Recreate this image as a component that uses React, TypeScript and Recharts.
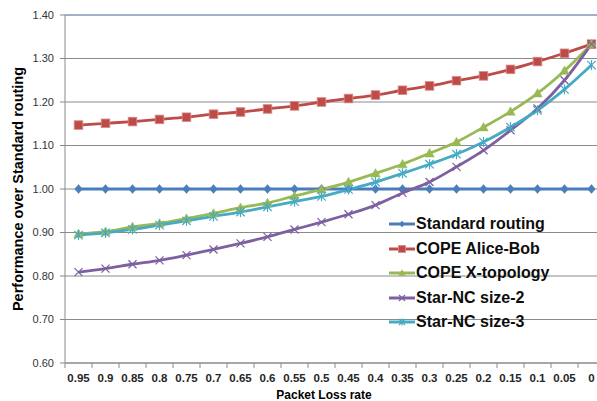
import React from 'react';
import { LineChart, Line, XAxis, YAxis, CartesianGrid, Legend, ReferenceLine } from 'recharts';

const lossRates = ['0.95', '0.9', '0.85', '0.8', '0.75', '0.7', '0.65', '0.6', '0.55', '0.5', '0.45', '0.4', '0.35', '0.3', '0.25', '0.2', '0.15', '0.1', '0.05', '0'];
const standardRouting = [1, 1, 1, 1, 1, 1, 1, 1, 1, 1, 1, 1, 1, 1, 1, 1, 1, 1, 1, 1];
const copeAliceBob = [1.147, 1.151, 1.155, 1.160, 1.165, 1.172, 1.177, 1.184, 1.191, 1.200, 1.208, 1.216, 1.227, 1.237, 1.249, 1.260, 1.275, 1.293, 1.312, 1.333];
const copeXTopology = [0.897, 0.902, 0.913, 0.921, 0.932, 0.944, 0.957, 0.968, 0.984, 0.999, 1.016, 1.036, 1.057, 1.082, 1.108, 1.142, 1.178, 1.220, 1.272, 1.333];
const starNcSize2 = [0.809, 0.817, 0.827, 0.836, 0.848, 0.861, 0.875, 0.890, 0.907, 0.924, 0.942, 0.963, 0.991, 1.016, 1.051, 1.089, 1.135, 1.185, 1.250, 1.333];
const starNcSize3 = [0.894, 0.899, 0.907, 0.917, 0.927, 0.937, 0.947, 0.959, 0.971, 0.983, 0.999, 1.016, 1.036, 1.057, 1.080, 1.108, 1.142, 1.181, 1.229, 1.285];
const yTicks = [0.6, 0.7, 0.8, 0.9, 1.0, 1.1, 1.2, 1.3, 1.4];

const data = lossRates.map((rate, i) => ({
  rate,
  standard: standardRouting[i],
  aliceBob: copeAliceBob[i],
  xTopology: copeXTopology[i],
  star2: starNcSize2[i],
  star3: starNcSize3[i],
}));

type Shape = 'diamond' | 'square' | 'triangle' | 'x' | 'star';

const series: { key: string; name: string; color: string; shape: Shape }[] = [
  { key: 'standard', name: 'Standard routing', color: '#4a7ebb', shape: 'diamond' },
  { key: 'aliceBob', name: 'COPE Alice-Bob', color: '#be4b48', shape: 'square' },
  { key: 'xTopology', name: 'COPE X-topology', color: '#98b954', shape: 'triangle' },
  { key: 'star2', name: 'Star-NC size-2', color: '#7d60a0', shape: 'x' },
  { key: 'star3', name: 'Star-NC size-3', color: '#46aac5', shape: 'star' },
];

const CHART_W = 620;
const CHART_H = 401;
const MARGIN = { top: 15, right: 15, bottom: 0, left: 0 };
const YAXIS_W = 65;
const XAXIS_H = 38;
const PLOT_W = CHART_W - MARGIN.left - MARGIN.right - YAXIS_W;
const HALF_BAND = PLOT_W / lossRates.length / 2;
const FONT = '"Liberation Sans", Arial, sans-serif';
const GRID = '#8a8a8a';

function Marker({ shape, cx, cy, color, s }: { shape: Shape; cx: number; cy: number; color: string; s: number }) {
  switch (shape) {
    case 'diamond':
      return <polygon points={`${cx},${cy - s} ${cx + s * 0.85},${cy} ${cx},${cy + s} ${cx - s * 0.85},${cy}`} fill={color} stroke={color} strokeWidth={0.5} />;
    case 'square':
      return <rect x={cx - s} y={cy - s} width={2 * s} height={2 * s} fill={color} stroke="#d88a88" strokeWidth={0.8} />;
    case 'triangle':
      return <polygon points={`${cx},${cy - s * 1.1} ${cx + s * 1.1},${cy + s * 0.85} ${cx - s * 1.1},${cy + s * 0.85}`} fill={color} stroke={color} strokeWidth={0.5} />;
    case 'x':
      return (
        <g stroke={color} strokeWidth={1.2}>
          <line x1={cx - s} y1={cy - s} x2={cx + s} y2={cy + s} />
          <line x1={cx - s} y1={cy + s} x2={cx + s} y2={cy - s} />
        </g>
      );
    case 'star':
    default:
      return (
        <g stroke={color} strokeWidth={1.2}>
          <line x1={cx - s} y1={cy - s} x2={cx + s} y2={cy + s} />
          <line x1={cx - s} y1={cy + s} x2={cx + s} y2={cy - s} />
          <line x1={cx} y1={cy - s * 1.2} x2={cx} y2={cy + s * 1.2} />
        </g>
      );
  }
}

const dotSize: Record<Shape, number> = { diamond: 4.5, square: 4.3, triangle: 4.3, x: 4, star: 4.2 };

const makeDot = (shape: Shape, color: string) => (props: any) => {
  const { cx, cy, index } = props;
  if (cx == null || cy == null) return <g key={`e${index}`} />;
  return (
    <g key={`d${index}`}>
      <Marker shape={shape} cx={cx} cy={cy} color={color} s={dotSize[shape]} />
    </g>
  );
};

const XTick = (props: any) => {
  const { x, y, payload, index } = props;
  const last = index === lossRates.length - 1;
  return (
    <g>
      <line x1={x - HALF_BAND} y1={y} x2={x - HALF_BAND} y2={y + 5} stroke={GRID} />
      {last && <line x1={x + HALF_BAND} y1={y} x2={x + HALF_BAND} y2={y + 5} stroke={GRID} />}
      <text x={x} y={y + 19} textAnchor="middle" fontFamily={FONT} fontSize={11.5} fontWeight="bold" fill="#262626">
        {payload.value}
      </text>
    </g>
  );
};

const YLabel = (props: any) => {
  const vb = props.viewBox || {};
  const cx = (vb.x || 0) + 18;
  const cy = (vb.y || 0) + (vb.height || 0) / 2;
  return (
    <text x={cx} y={cy} transform={`rotate(-90, ${cx}, ${cy})`} textAnchor="middle" dominantBaseline="central" fontFamily={FONT} fontSize={14.5} fontWeight="bold" fill="#000">
      Performance over Standard routing
    </text>
  );
};

const XLabel = (props: any) => {
  const vb = props.viewBox || {};
  const cx = (vb.x || 0) + (vb.width || 0) / 2 - 11;
  const cy = (vb.y || 0) + (vb.height || 0) - 2;
  return (
    <text x={cx} y={cy} textAnchor="middle" fontFamily={FONT} fontSize={12} fontWeight="bold" fill="#000">
      Packet Loss rate
    </text>
  );
};

const LegendContent = () => (
  <div style={{ fontFamily: FONT }}>
    {series.map((s) => (
      <div key={s.key} style={{ display: 'flex', alignItems: 'center', height: 24.5 }}>
        <svg width={28} height={12} style={{ display: 'block' }}>
          <line x1={1} y1={6} x2={27} y2={6} stroke={s.color} strokeWidth={3} />
          <Marker shape={s.shape} cx={14} cy={6} color={s.color} s={s.shape === 'square' ? 3.5 : 3} />
        </svg>
        <span style={{ fontSize: 16, fontWeight: 'bold', color: '#0d0d0d', whiteSpace: 'nowrap' }}>{s.name}</span>
      </div>
    ))}
  </div>
);

export default function App() {
  return (
    <div style={{ position: 'fixed', left: 0, top: 0, width: 597, height: 401, overflow: 'hidden', background: '#fff' }}>
      <LineChart width={CHART_W} height={CHART_H} data={data} margin={MARGIN}>
        <CartesianGrid vertical={false} stroke={GRID} strokeWidth={1} />
        <ReferenceLine y={1.4} stroke="#7d9dcf" strokeWidth={1.2} />
        <XAxis
          dataKey="rate"
          height={XAXIS_H}
          interval={0}
          padding={{ left: HALF_BAND, right: HALF_BAND }}
          tickSize={0}
          tickMargin={0}
          tickLine={false}
          axisLine={{ stroke: GRID }}
          tick={<XTick />}
          label={<XLabel />}
        />
        <YAxis
          width={YAXIS_W}
          domain={[0.6, 1.4]}
          ticks={yTicks}
          interval={0}
          tickSize={5}
          tickMargin={6}
          tickLine={{ stroke: GRID }}
          axisLine={{ stroke: GRID }}
          tickFormatter={(v: number) => v.toFixed(2)}
          tick={{ fontFamily: FONT, fontSize: 11, fill: '#333' }}
          label={<YLabel />}
        />
        {series.map((s) => (
          <Line
            key={s.key}
            dataKey={s.key}
            name={s.name}
            type="monotone"
            stroke={s.color}
            strokeWidth={2.8}
            dot={makeDot(s.shape, s.color)}
            activeDot={false}
            isAnimationActive={false}
          />
        ))}
        <Legend
          layout="vertical"
          verticalAlign="middle"
          align="center"
          wrapperStyle={{ left: 388, top: 212, width: 210 }}
          content={<LegendContent />}
        />
      </LineChart>
    </div>
  );
}
